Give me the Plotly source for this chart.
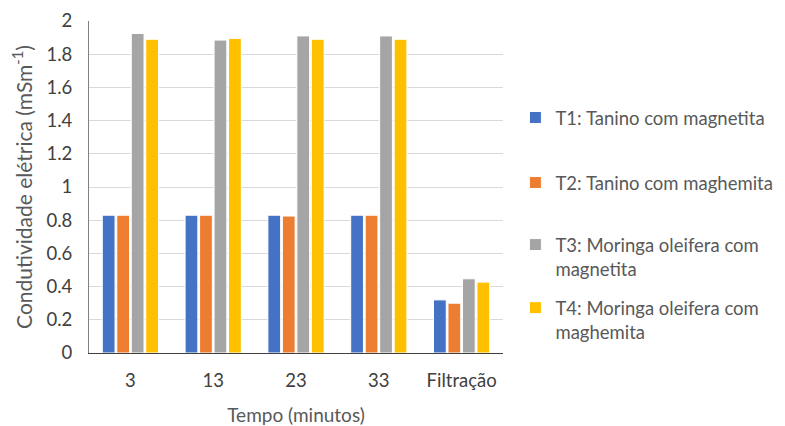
import plotly.graph_objects as go

categories = ["3", "13", "23", "33", "Filtração"]
series_names = [
    "T1: Tanino com magnetita",
    "T2: Tanino com maghemita",
    "T3: Moringa oleifera com<br>magnetita",
    "T4: Moringa oleifera com<br>maghemita",
]
t1 = [0.83, 0.83, 0.83, 0.83, 0.32]
t2 = [0.83, 0.83, 0.825, 0.83, 0.30]
t3 = [1.925, 1.885, 1.91, 1.91, 0.447]
t4 = [1.89, 1.895, 1.89, 1.89, 0.427]
colors = ["#4472C4", "#ED7D31", "#A5A5A5", "#FFC000"]

FONT = "Lato"
GRAY = "#595959"
TICK = "#404040"

legend_ids = ["legend", "legend2", "legend3", "legend4"]
legend_y = [0.708, 0.512, 0.289, 0.099]

fig = go.Figure()
for i, (name, vals) in enumerate(zip(series_names, [t1, t2, t3, t4])):
    fig.add_trace(go.Bar(
        x=categories, y=vals, name=name, showlegend=True,
        marker=dict(color=colors[i], line=dict(color="white", width=1)),
        legend=legend_ids[i],
    ))

legend_common = dict(
    x=1.03, xanchor="left", yanchor="middle",
    font=dict(family=FONT, size=18.5, color=GRAY),
    itemwidth=30, bgcolor="rgba(0,0,0,0)", valign="top",
)

# Page body has an 8px margin, so the figure is drawn 8px in from the corner.
fig.update_layout(
    width=777, height=418, showlegend=True,
    paper_bgcolor="white", plot_bgcolor="white",
    margin=dict(l=81, r=282, t=13, b=73, autoexpand=False),
    barmode="group", bargap=0.3, bargroupgap=0.12,
    font=dict(family=FONT, size=16, color=GRAY),
    legend=dict(y=legend_y[0], **legend_common),
    legend2=dict(y=legend_y[1], **legend_common),
    legend3=dict(y=legend_y[2], **legend_common),
    legend4=dict(y=legend_y[3], **legend_common),
    xaxis=dict(
        title=dict(text="Tempo (minutos)", font=dict(size=19, color=GRAY), standoff=18),
        automargin=False,
        showline=True, linecolor="#404040", linewidth=1,
        ticks="", tickfont=dict(size=18.5, color=TICK),
        ticklabelstandoff=11,
    ),
    yaxis=dict(
        title=dict(text="Condutividade elétrica (mSm<sup>-1</sup>)", font=dict(size=21, color=GRAY), standoff=12),
        automargin=False,
        range=[0, 2], dtick=0.2, tickformat="~g",
        showgrid=True, gridcolor="#D9D9D9", gridwidth=1,
        showline=True, linecolor="#808080", linewidth=1,
        zeroline=False, ticks="", tickfont=dict(size=18.5, color=TICK),
        ticklabelstandoff=12,
    ),
)

fig.write_html("out.html")
